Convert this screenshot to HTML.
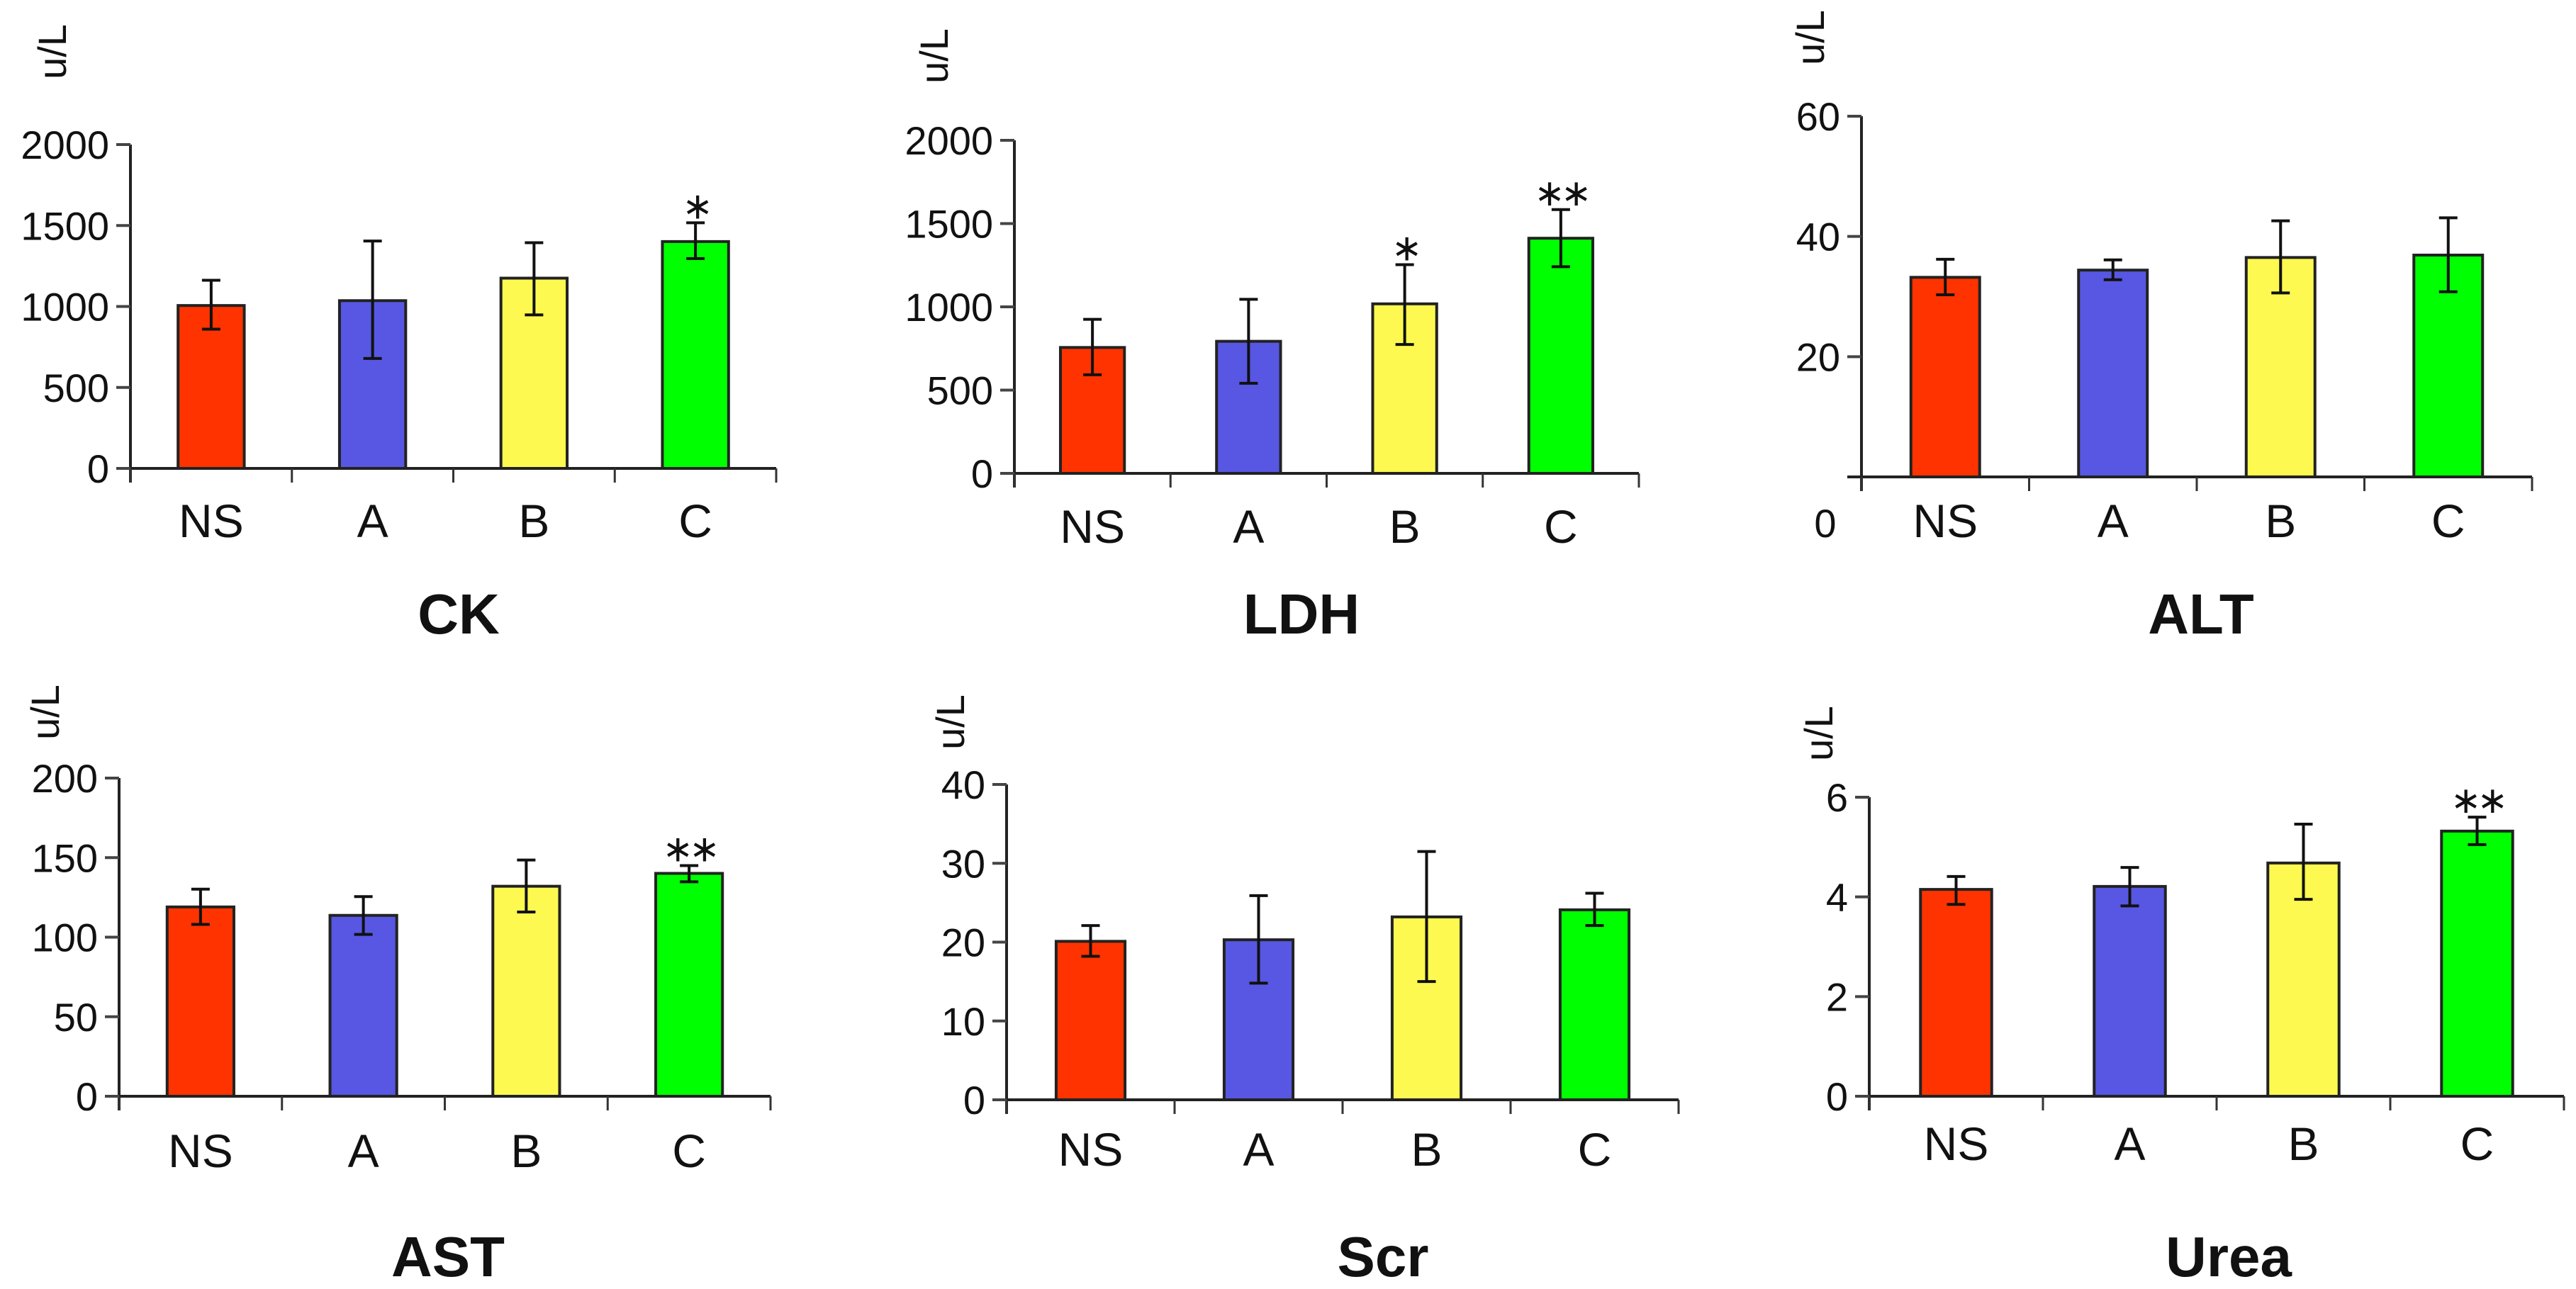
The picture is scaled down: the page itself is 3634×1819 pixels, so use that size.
<!DOCTYPE html>
<html><head><meta charset="utf-8"><style>
html,body{margin:0;padding:0;background:#fff;width:3634px;height:1819px;overflow:hidden}
svg text{font-family:"Liberation Sans",sans-serif;fill:#111}
</style></head><body>
<svg id="fig" width="3634" height="1819" viewBox="0 0 3634 1819" xmlns="http://www.w3.org/2000/svg"></svg>
<script>
const categories = ["NS","A","B","C"];
const colors = ["#ff3300","#5757e3","#fdf950","#00ff00"];
const ckValues = [1006,1036,1175,1401];
const ckErrHi = [1162,1404,1394,1517];
const ckErrLo = [860,679,948,1296];
const ckStars = ["","","","*"];
const ckTicks = [0,500,1000,1500,2000];
const ldhValues = [756,793,1018,1412];
const ldhErrHi = [925,1045,1253,1584];
const ldhErrLo = [592,541,774,1241];
const ldhStars = ["","","*","**"];
const ldhTicks = [0,500,1000,1500,2000];
const altValues = [33.2,34.4,36.5,36.9];
const altErrHi = [36.2,36.1,42.6,43.1];
const altErrLo = [30.3,32.8,30.6,30.8];
const altStars = ["","","",""];
const altTicks = [20,40,60];
const astValues = [119,113.7,132,140.1];
const astErrHi = [130.2,125.5,148.5,145];
const astErrLo = [108,101.7,115.8,134.8];
const astStars = ["","","","**"];
const astTicks = [0,50,100,150,200];
const scrValues = [20.1,20.3,23.2,24.1];
const scrErrHi = [22.1,25.9,31.5,26.2];
const scrErrLo = [18.2,14.8,15.0,22.1];
const scrStars = ["","","",""];
const scrTicks = [0,10,20,30,40];
const ureaValues = [4.15,4.21,4.68,5.32];
const ureaErrHi = [4.41,4.59,5.46,5.60];
const ureaErrLo = [3.85,3.82,3.95,5.05];
const ureaStars = ["","","","**"];
const ureaTicks = [0,2,4,6];

const NS="http://www.w3.org/2000/svg";
const svg=document.getElementById('fig');
function mk(tag,attrs,parent){const e=document.createElementNS(NS,tag);for(const k in attrs)e.setAttribute(k,attrs[k]);(parent||svg).appendChild(e);return e;}

function panel(cfg){
  const g=mk('g',{});
  
  
  const yMax=cfg.ticks[cfg.ticks.length-1];
  const y=v=>cfg.y0-(v/yMax)*(cfg.y0-cfg.yTop);
  const cw=(cfg.xEnd-cfg.ax)/categories.length;
  const x=i=>cfg.ax+cw*(i+0.5);
  const bw=cw*0.41;
  cfg.values.forEach((v,i)=>{
    const r=mk('rect',{x:x(i)-bw/2,y:y(v),width:bw,height:cfg.y0-y(v),fill:colors[i],stroke:'#222','stroke-width':4},g);
    
    
    const eb=mk('g',{stroke:'#111','stroke-width':4},g);
    
    
    mk('line',{x1:x(i),x2:x(i),y1:y(cfg.hi[i]),y2:y(cfg.lo[i])},eb);
    mk('line',{x1:x(i)-13,x2:x(i)+13,y1:y(cfg.hi[i]),y2:y(cfg.hi[i])},eb);
    mk('line',{x1:x(i)-13,x2:x(i)+13,y1:y(cfg.lo[i]),y2:y(cfg.lo[i])},eb);
    if(cfg.stars[i]){
      const s=mk('text',{x:x(i),y:y(cfg.hi[i])-6,'text-anchor':'middle','font-size':52,'letter-spacing':-6},g);
      s.textContent=cfg.stars[i].replace(/\*/g,'∗');
      
      
    }
    const l=mk('text',{x:x(i),y:cfg.labY,'text-anchor':'middle','font-size':66},g);
    l.textContent=categories[i];
    
    
  });
  const ya=mk('line',{x1:cfg.ax,x2:cfg.ax,y1:cfg.yTop,y2:cfg.y0+20,stroke:'#222','stroke-width':4},g);
  
  
  const xa=mk('line',{x1:cfg.ax-20,x2:cfg.xEnd,y1:cfg.y0,y2:cfg.y0,stroke:'#222','stroke-width':4},g);
  
  
  for(let i=0;i<=categories.length;i++){
    mk('line',{x1:cfg.ax+cw*i,x2:cfg.ax+cw*i,y1:cfg.y0,y2:cfg.y0+20,stroke:'#333','stroke-width':3},g);
  }
  cfg.ticks.forEach(t=>{
    mk('line',{x1:cfg.ax-20,x2:cfg.ax,y1:y(t),y2:y(t),stroke:'#444','stroke-width':4},g);
    const tl=mk('text',{x:cfg.ax-30,y:y(t)+20,'text-anchor':'end','font-size':56},g);
    tl.textContent=t;
    
    
  });
  if(cfg.zeroLabel){
    const z=mk('text',{x:cfg.zeroLabel[0],y:cfg.zeroLabel[1],'text-anchor':'middle','font-size':56},g);
    z.textContent='0';
    
    
  }
  const u=mk('text',{x:0,y:0,'text-anchor':'middle','font-size':56,transform:`translate(${cfg.unit[0]+20},${cfg.unit[1]}) rotate(-90)`},g);
  u.textContent='u/L';
  
  
  const t=mk('text',{x:cfg.title[0],y:cfg.title[1],'text-anchor':'middle','font-size':80,'font-weight':'bold'},g);
  t.textContent=cfg.name;
  
  
}

panel({key:'ck',name:'CK',values:ckValues,hi:ckErrHi,lo:ckErrLo,stars:ckStars,ticks:ckTicks,ax:184,yTop:204,y0:661,xEnd:1095,labY:758,unit:[73,73],title:[647,894]});
panel({key:'ldh',name:'LDH',values:ldhValues,hi:ldhErrHi,lo:ldhErrLo,stars:ldhStars,ticks:ldhTicks,ax:1431,yTop:198,y0:668,xEnd:2312,labY:766,unit:[1317,79],title:[1836,894]});
panel({key:'alt',name:'ALT',values:altValues,hi:altErrHi,lo:altErrLo,stars:altStars,ticks:altTicks,ax:2626,yTop:164,y0:673,xEnd:3572,labY:758,unit:[2553,53],title:[3105,894],zeroLabel:[2575,758]});
panel({key:'ast',name:'AST',values:astValues,hi:astErrHi,lo:astErrLo,stars:astStars,ticks:astTicks,ax:168,yTop:1098,y0:1547,xEnd:1087,labY:1647,unit:[63,1005],title:[632,1801]});
panel({key:'scr',name:'Scr',values:scrValues,hi:scrErrHi,lo:scrErrLo,stars:scrStars,ticks:scrTicks,ax:1420,yTop:1107,y0:1552,xEnd:2368,labY:1645,unit:[1340,1019],title:[1951,1801]});
panel({key:'urea',name:'Urea',values:ureaValues,hi:ureaErrHi,lo:ureaErrLo,stars:ureaStars,ticks:ureaTicks,ax:2637,yTop:1125,y0:1547,xEnd:3617,labY:1637,unit:[2565,1035],title:[3144,1801]});
</script>
</body></html>
